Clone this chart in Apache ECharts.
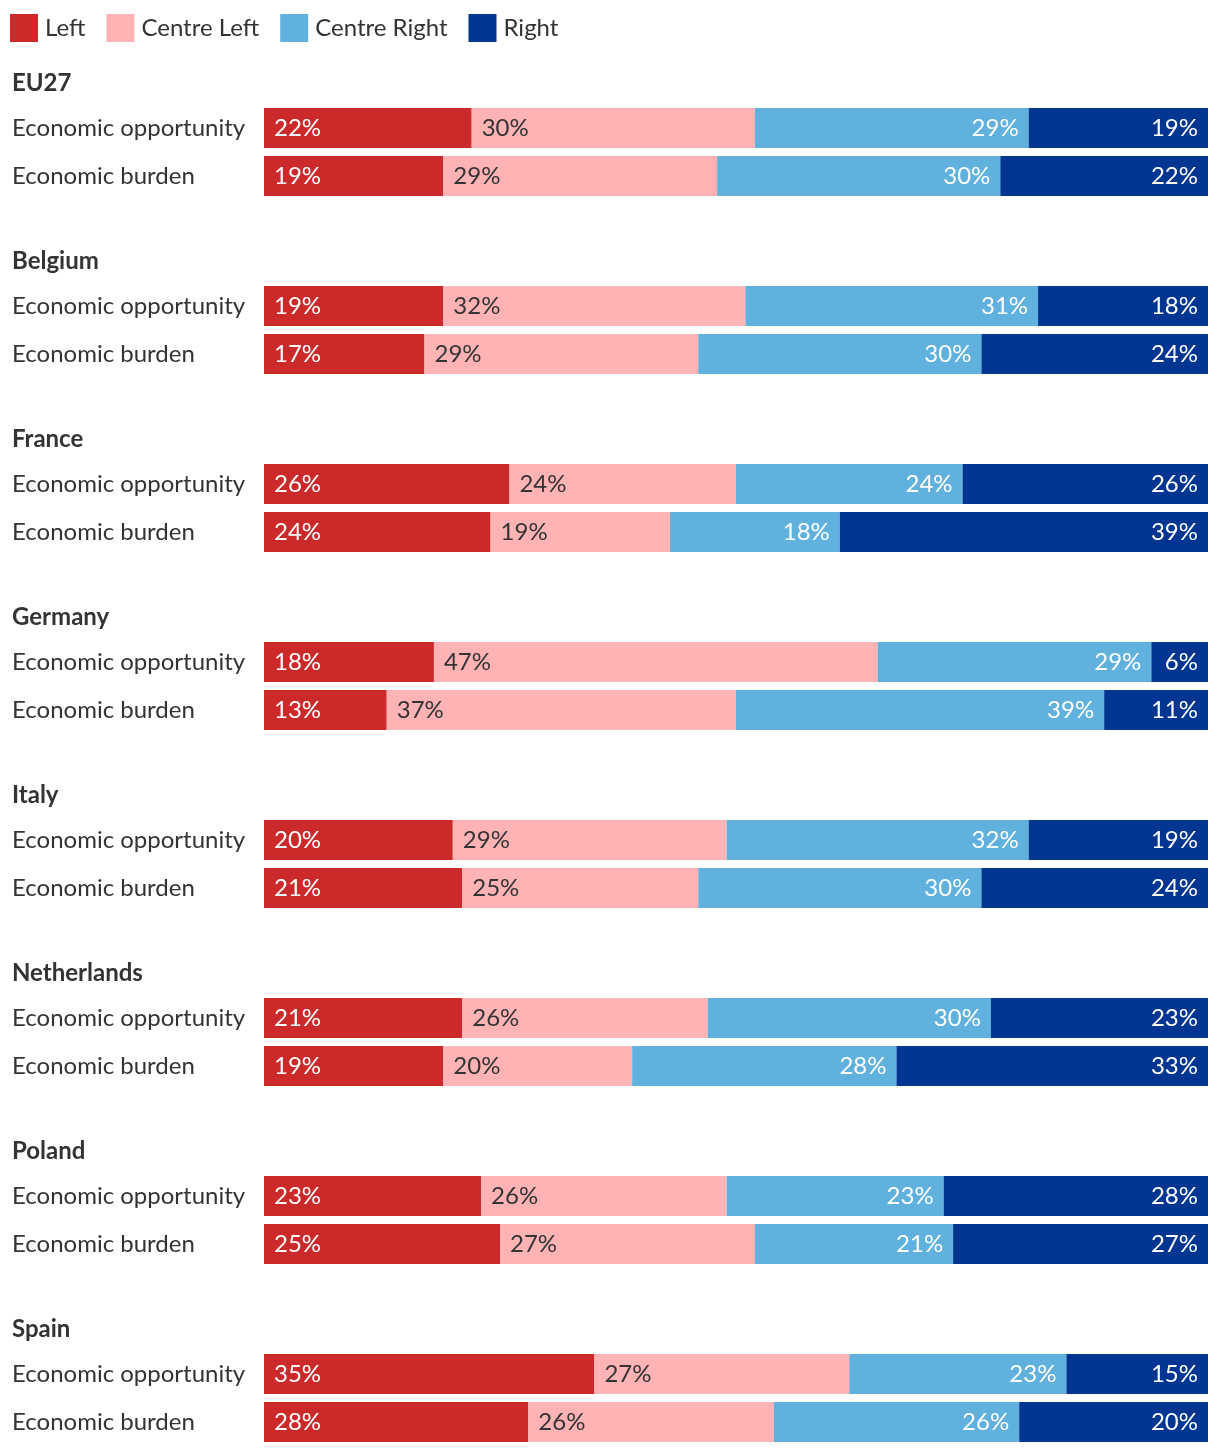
<!DOCTYPE html>
<html>
<head>
<meta charset="utf-8">
<script src="https://cdn.jsdelivr.net/npm/echarts@6/dist/echarts.min.js"></script>
<style>
html,body{margin:0;padding:0;background:#fff;}
#chart{width:1220px;height:1454px;}
</style>
</head>
<body>
<div id="chart"></div>
<script>
var countries = ['EU27','Belgium','France','Germany','Italy','Netherlands','Poland','Spain'];
var measures = ['Economic opportunity','Economic burden'];
var parties = ['Left','Centre Left','Centre Right','Right'];
// values per country: [Economic opportunity, Economic burden]
var leftVals = [[22,19],[19,17],[26,24],[18,13],[20,21],[21,19],[23,25],[35,28]];
var centreLeftVals = [[30,29],[32,29],[24,19],[47,37],[29,25],[26,20],[26,27],[27,26]];
var centreRightVals = [[29,30],[31,30],[24,18],[29,39],[32,30],[30,28],[23,21],[23,26]];
var rightVals = [[19,22],[18,24],[26,39],[6,11],[19,24],[23,33],[28,27],[15,20]];

var partyVals = [leftVals, centreLeftVals, centreRightVals, rightVals];
var colors = ['#cc2a2a', '#ffb3b5', '#60b1de', '#003591'];
var labelColors = ['#ffffff', '#333333', '#ffffff', '#ffffff'];
var labelPos = ['insideLeft', 'insideLeft', 'insideRight', 'insideRight'];
var FONT = 'Lato';
var TEXT = '#333333';
var FS = 24;

var grids = [], xAxes = [], yAxes = [], series = [], titles = [];
var step = 178;
countries.forEach(function (c, i) {
  var top = 104 + step * i;
  grids.push({left: 264, right: 12, top: top, height: 96});
  titles.push({
    text: c, left: 12, top: top - 35, padding: 0,
    textStyle: {fontFamily: FONT, fontSize: FS, fontWeight: 'bold', color: TEXT, lineHeight: 28}
  });
  xAxes.push({gridIndex: i, type: 'value', min: 0, max: 100, show: false});
  yAxes.push({
    gridIndex: i, type: 'category', data: measures, inverse: true,
    axisLine: {show: false}, axisTick: {show: false}, splitLine: {show: false},
    axisLabel: {margin: 252, align: 'left', fontFamily: FONT, fontSize: FS, color: TEXT}
  });
  parties.forEach(function (p, k) {
    series.push({
      type: 'bar', name: p, xAxisIndex: i, yAxisIndex: i, stack: 'g' + i,
      barWidth: 40, barGap: 0,
      data: partyVals[k][i],
      itemStyle: {color: colors[k]},
      label: {
        show: true, position: labelPos[k], distance: 10,
        formatter: '{c}%', fontFamily: FONT, fontSize: FS, color: labelColors[k]
      },
      emphasis: {disabled: true}
    });
  });
});

var chart = echarts.init(document.getElementById('chart'), null, {renderer: 'canvas'});
chart.setOption({
  animation: false,
  color: colors,
  title: titles,
  legend: {
    data: parties, left: 10, top: 14, padding: 0,
    itemWidth: 28, itemHeight: 28, itemGap: 21,
    icon: 'rect', selectedMode: false,
    textStyle: {fontFamily: FONT, fontSize: FS, color: TEXT, padding: [0, 0, 0, 2]}
  },
  grid: grids,
  xAxis: xAxes,
  yAxis: yAxes,
  series: series
});
</script>
</body>
</html>
